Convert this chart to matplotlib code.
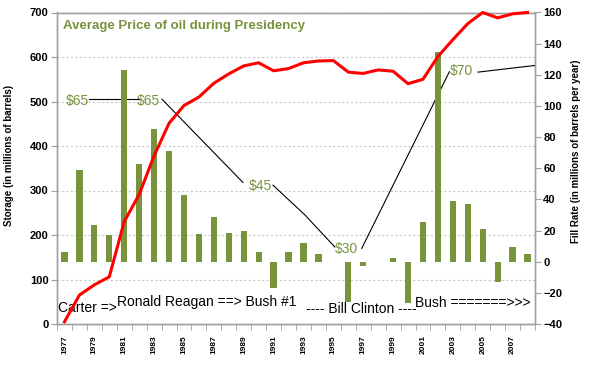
import matplotlib.pyplot as plt
import numpy as np

plt.rcParams['font.family'] = ['Liberation Sans', 'DejaVu Sans']

years = list(range(1977, 2009))
# storage (left axis, millions of barrels) - red line
storage = [5, 65, 88, 106, 230, 291, 378, 451, 491, 510, 541, 562, 580, 587, 569, 574,
           587, 591, 592, 566, 563, 571, 568, 540, 550, 601, 639, 675, 700, 688, 697, 700]
# fill rate (right axis, millions of barrels per year) - bars
fill_rate = [6.4, 59, 23.6, 17, 122.8, 62.8, 85, 71, 43, 17.8, 29, 18.6, 19.7, 6, -17, 6,
             11.8, 4.8, 0, -25.7, -2.8, 0, 2.6, -26.3, 25.5, 134.4, 39.2, 37, 20.8, -12.9, 9.3, 4.8]

price_labels = ['$65', '$65', '$45', '$30', '$70']
president_labels = ['Carter =>', 'Ronald Reagan ==> Bush #1', '---- Bill Clinton ----', 'Bush =======>>>']

olive = '#77933C'
grey = '#A0A0A0'

x = np.arange(len(years))

fig = plt.figure(figsize=(6, 3.65), dpi=100)
ax = fig.add_axes([57 / 600, 41 / 365, 478 / 600, 311.5 / 365])
ax2 = ax.twinx()

ax.set_xlim(-0.5, len(years) - 0.5)
ax.set_ylim(0, 700)
ax2.set_ylim(-40, 160)

# bars on the right scale, line on the left scale but drawn above the bars
ax2.bar(x, fill_rate, width=0.42, color=olive, edgecolor='none', zorder=2)
ax2.plot(x, storage, color='red', lw=2.2, transform=ax.transData, zorder=4,
         solid_joinstyle='round', clip_on=False)

# grid and spines
ax.set_yticks(range(0, 701, 100))
ax.yaxis.grid(True, ls=(0, (2, 2)), color='#C8C8C8', lw=0.8)
ax.set_axisbelow(True)
for a in (ax, ax2):
    for s in a.spines.values():
        s.set_color(grey)
        s.set_linewidth(1.0)

ax.tick_params(axis='y', length=4, color=grey, labelsize=8, pad=2)
ax2.set_yticks(range(-40, 161, 20))
ax2.tick_params(axis='y', length=4, color=grey, labelsize=8, pad=2)

ax.set_xticks(x[::2])
ax.set_xticklabels([str(y) for y in years[::2]], rotation=90, fontsize=6, fontweight='bold')
ax.set_xticks(np.arange(-0.5, len(years), 1), minor=True)
ax.tick_params(axis='x', which='major', length=0, pad=8)
ax.tick_params(axis='x', which='minor', length=4, color=grey)

for lbl in ax.get_yticklabels() + ax2.get_yticklabels():
    lbl.set_fontweight('bold')

ax.set_ylabel('Storage (in millions of barrels)', fontsize=7, fontweight='bold')
ax.yaxis.set_label_coords(-0.09, 0.54)
ax2.set_ylabel('Fill Rate (in millions of barrels per year)', fontsize=7, fontweight='bold')
ax2.yaxis.set_label_coords(1.075, 0.554)

ax.text(0.0126, 0.957, 'Average Price of oil during Presidency', transform=ax.transAxes,
        color=olive, fontsize=9.5, fontweight='bold', va='center', ha='left')

# price annotations (positions in left-axis data units)
price_pos = [(0.84, 500), (5.59, 500), (13.09, 310), (18.91, 168), (26.6, 568)]
for lbl, (px, py) in zip(price_labels, price_pos):
    ax.text(px, py, lbl, color=olive, fontsize=10, ha='center', va='center')

connectors = [
    [(1.64, 505), (4.99, 505)],
    [(6.53, 505), (11.95, 318)],
    [(13.96, 312), (16.1, 245), (18.1, 173)],
    [(19.9, 170), (25.77, 567)],
    [(27.68, 566), (31.5, 581)],
]
for seg in connectors:
    sx, sy = zip(*seg)
    ax.plot(sx, sy, color='black', lw=0.8, zorder=3)

# president captions along the bottom
pres_pos = [(-0.43, 36), (3.52, 49), (16.17, 34), (23.46, 47)]
for lbl, (px, py) in zip(president_labels, pres_pos):
    ax.text(px, py, lbl, fontsize=10, ha='left', va='center', color='black')

fig.savefig('out.png', dpi=100)
plt.close(fig)
